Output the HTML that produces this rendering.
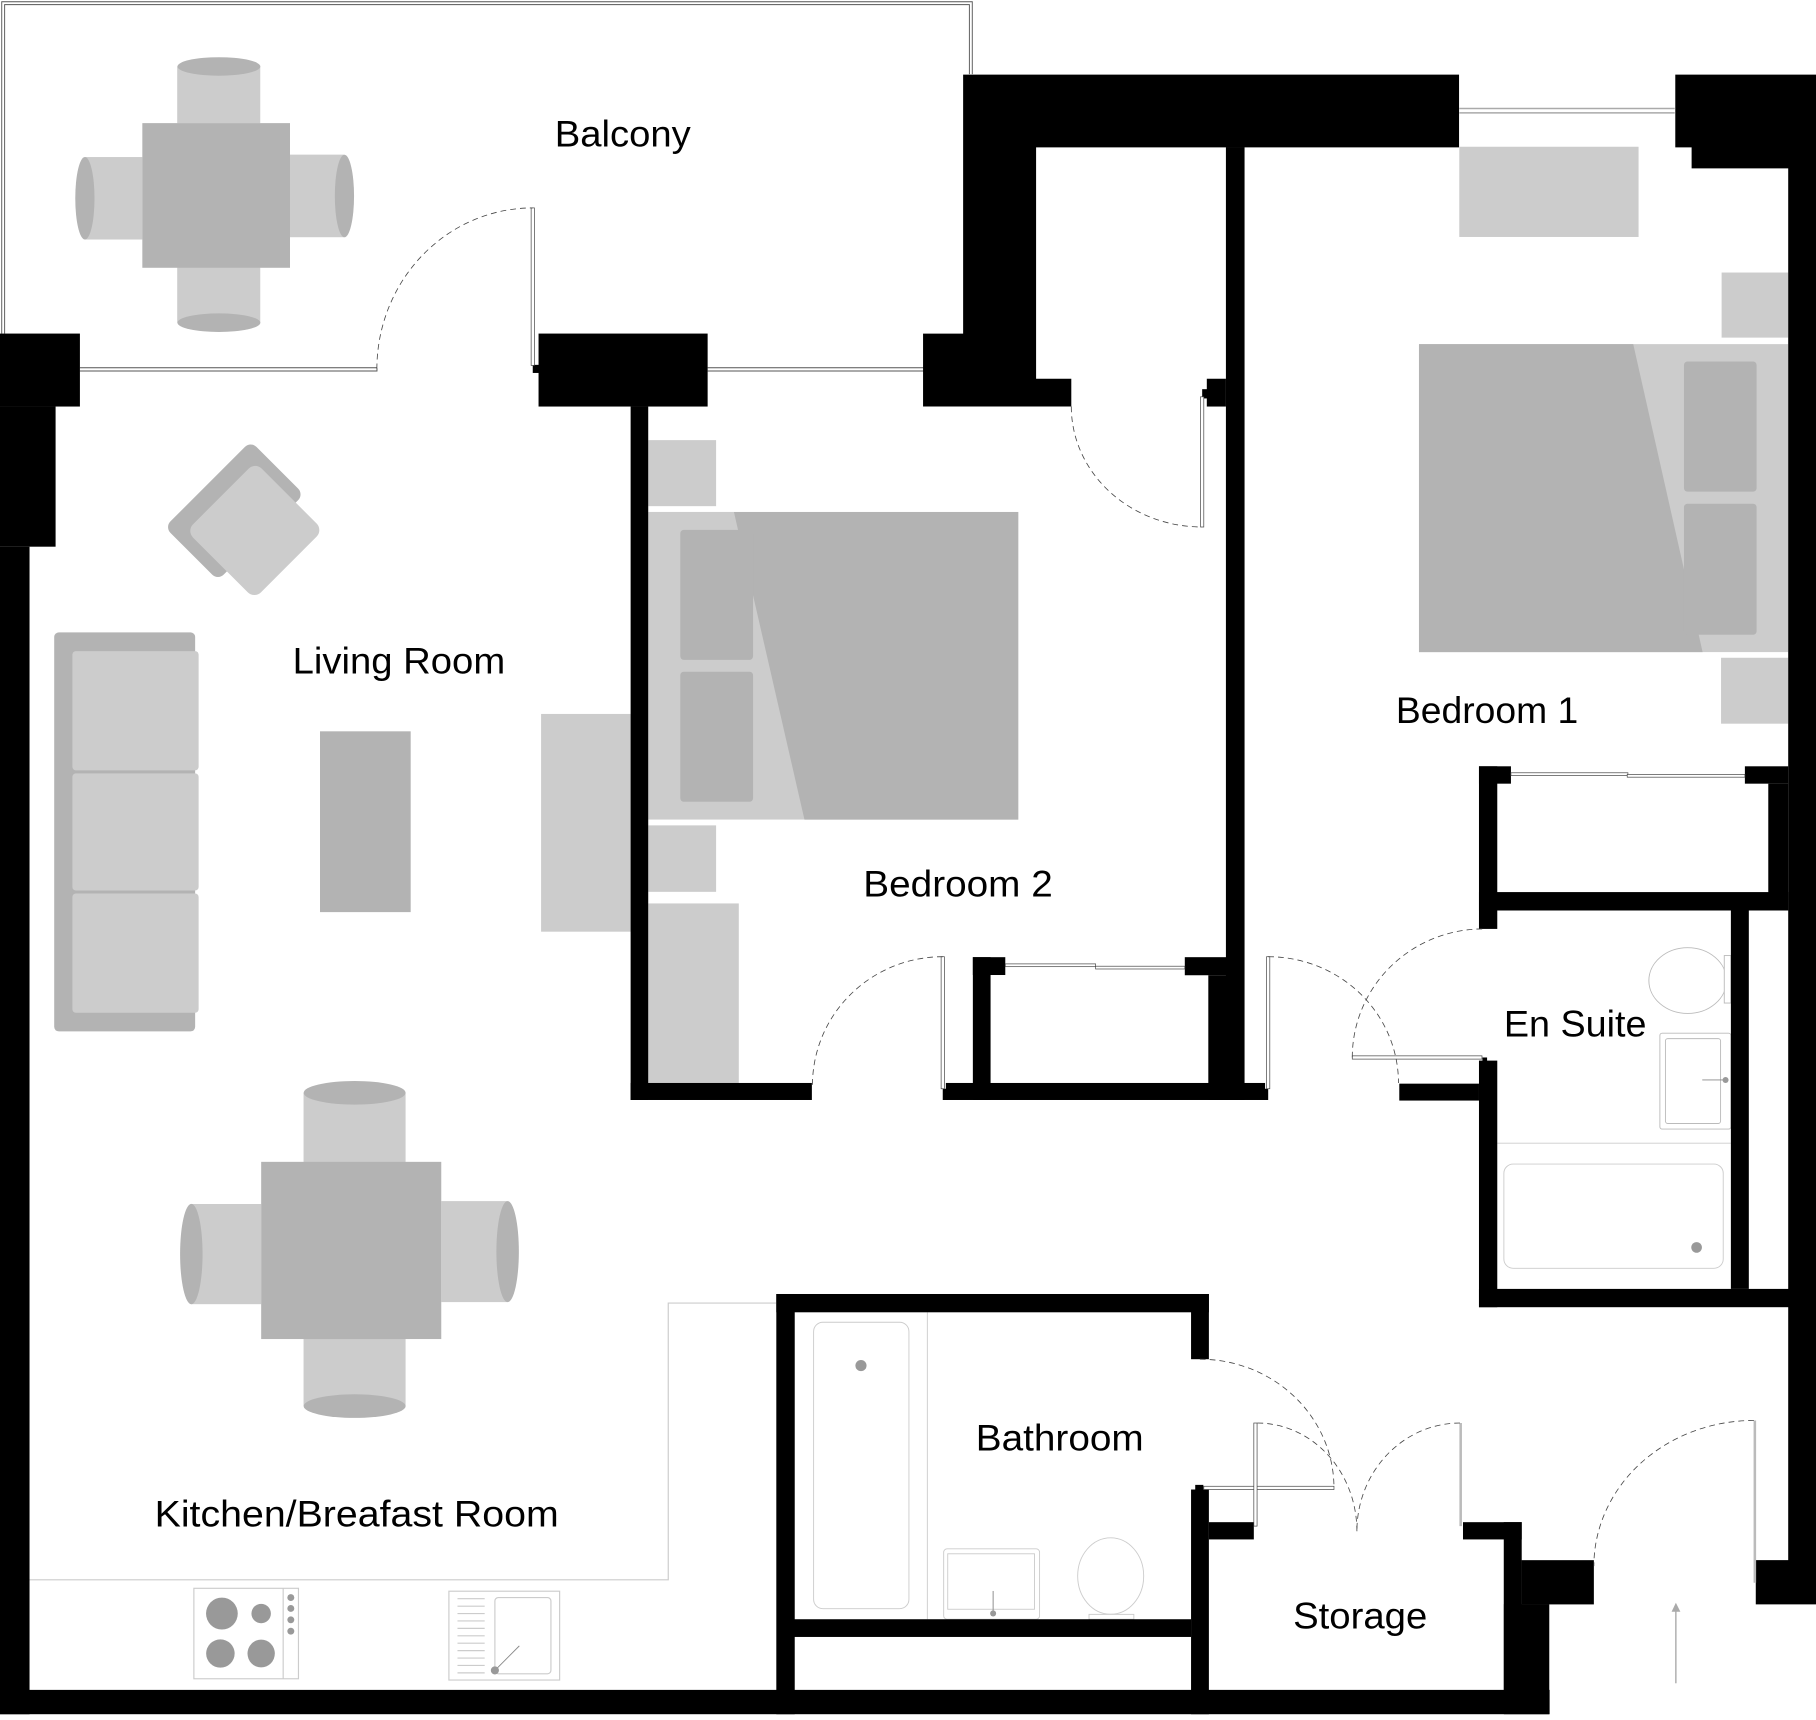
<!DOCTYPE html>
<html><head><meta charset="utf-8"><style>
html,body{margin:0;padding:0;background:#fff;}
svg{display:block;}
text{font-family:"Liberation Sans",sans-serif;font-size:32px;fill:#000;}
</style></head><body>
<svg width="1816" height="1720" viewBox="0 0 1568 1485" preserveAspectRatio="none" xmlns="http://www.w3.org/2000/svg">
<rect x="0" y="0" width="1568" height="1485" fill="#fff"/>

<!-- Balcony outline (double thin lines) -->
<g fill="none" stroke="#555" stroke-width="0.8">
  <path d="M1.5 288 V1.5 H839.5 V64"/>
  <path d="M4 288 V4 H837 V64"/>
  <path d="M69 317.5 H325.5"/>
  <path d="M69 320.3 H325.5 V318"/>
  <path d="M611 317.5 H798"/>
  <path d="M611 320.3 H798"/>
</g>
<!-- top right window -->
<g stroke="#aaa" stroke-width="1.3">
  <line x1="1260" y1="93.7" x2="1446" y2="93.7"/>
  <line x1="1260" y1="97.5" x2="1446" y2="97.5"/>
</g>

<!-- Furniture: balcony table -->
<g>
  <rect x="153" y="57.4" width="71.7" height="49" fill="#ccc"/>
  <ellipse cx="189" cy="57.4" rx="35.8" ry="8" fill="#b3b3b3"/>
  <rect x="153" y="231" width="71.7" height="47.6" fill="#ccc"/>
  <ellipse cx="189" cy="278.6" rx="35.8" ry="8" fill="#b3b3b3"/>
  <rect x="73.3" y="135.6" width="49.6" height="71.2" fill="#ccc"/>
  <ellipse cx="73.3" cy="171.2" rx="8.3" ry="35.6" fill="#b3b3b3"/>
  <rect x="250.4" y="133.5" width="47" height="71.3" fill="#ccc"/>
  <ellipse cx="297.4" cy="169.2" rx="8.3" ry="35.6" fill="#b3b3b3"/>
  <rect x="122.9" y="106.3" width="127.5" height="124.9" fill="#b3b3b3"/>
</g>

<!-- Living room -->
<rect x="169.8" y="388.5" width="65" height="105" rx="7" fill="#b3b3b3" transform="rotate(45 202.3 441)"/>
<rect x="178.5" y="416" width="83" height="84" rx="8" fill="#ccc" transform="rotate(45 220 458)"/>
<rect x="46.8" y="546" width="121.7" height="344.5" rx="4" fill="#b3b3b3"/>
<rect x="62.5" y="562.2" width="109" height="102.9" rx="3" fill="#ccc"/>
<rect x="62.5" y="667.7" width="109" height="101.1" rx="3" fill="#ccc"/>
<rect x="62.5" y="771.4" width="109" height="103" rx="3" fill="#ccc"/>
<rect x="276.3" y="631.4" width="78.3" height="156.1" fill="#b3b3b3"/>
<rect x="467.2" y="616.4" width="77.5" height="188" fill="#ccc"/>

<!-- Dining -->
<g>
  <rect x="262.1" y="943.5" width="88.1" height="60" fill="#ccc"/>
  <ellipse cx="306.2" cy="943.5" rx="44" ry="10.2" fill="#b3b3b3"/>
  <rect x="262.1" y="1156" width="88.1" height="58" fill="#ccc"/>
  <ellipse cx="306.2" cy="1214" rx="44" ry="10.2" fill="#b3b3b3"/>
  <rect x="165.2" y="1039.5" width="60.3" height="86.5" fill="#ccc"/>
  <ellipse cx="165.2" cy="1082.7" rx="9.7" ry="43.3" fill="#b3b3b3"/>
  <rect x="381" y="1037" width="57.3" height="87.2" fill="#ccc"/>
  <ellipse cx="438.3" cy="1080.6" rx="9.7" ry="43.6" fill="#b3b3b3"/>
  <rect x="225.5" y="1003.1" width="155.5" height="153" fill="#b3b3b3"/>
</g>

<!-- Kitchen counter -->
<polyline points="25.5,1364 577,1364 577,1125 670,1125" fill="none" stroke="#ccc" stroke-width="1"/>
<!-- hob -->
<rect x="167.4" y="1371.3" width="90.3" height="78.1" fill="#fff" stroke="#ccc" stroke-width="1"/>
<line x1="244.5" y1="1371.3" x2="244.5" y2="1449.4" stroke="#ccc" stroke-width="1"/>
<ellipse cx="191.6" cy="1393.1" rx="13.7" ry="13.8" fill="#999"/>
<ellipse cx="225.5" cy="1393.1" rx="8.4" ry="8.4" fill="#999"/>
<ellipse cx="190.3" cy="1427.6" rx="12.3" ry="12.2" fill="#999"/>
<ellipse cx="225.5" cy="1427.6" rx="11.8" ry="12" fill="#999"/>
<circle cx="251.1" cy="1379.3" r="3" fill="#999"/>
<circle cx="251.1" cy="1388.7" r="3" fill="#999"/>
<circle cx="251.1" cy="1398.5" r="3" fill="#999"/>
<circle cx="251.1" cy="1408.3" r="3" fill="#999"/>
<!-- sink -->
<rect x="387.6" y="1373.8" width="95.6" height="76.7" fill="#fff" stroke="#ccc" stroke-width="1"/>
<g stroke="#ccc" stroke-width="1">
  <line x1="395" y1="1380.3" x2="418.5" y2="1380.3"/>
  <line x1="395" y1="1386.7" x2="418.5" y2="1386.7"/>
  <line x1="395" y1="1393.1" x2="418.5" y2="1393.1"/>
  <line x1="395" y1="1399.5" x2="418.5" y2="1399.5"/>
  <line x1="395" y1="1405.9" x2="418.5" y2="1405.9"/>
  <line x1="395" y1="1412.3" x2="418.5" y2="1412.3"/>
  <line x1="395" y1="1418.7" x2="418.5" y2="1418.7"/>
  <line x1="395" y1="1425.1" x2="418.5" y2="1425.1"/>
  <line x1="395" y1="1431.5" x2="418.5" y2="1431.5"/>
  <line x1="395" y1="1437.9" x2="418.5" y2="1437.9"/>
  <line x1="395" y1="1444.3" x2="418.5" y2="1444.3"/>
</g>
<rect x="427.3" y="1379.3" width="48.4" height="65.8" rx="3" fill="none" stroke="#ccc" stroke-width="1"/>
<line x1="427.3" y1="1442.2" x2="448.4" y2="1421" stroke="#888" stroke-width="0.8"/>
<circle cx="427.3" cy="1442.2" r="3.5" fill="#999"/>

<!-- Bedroom 2 furniture -->
<rect x="559.7" y="380" width="58.6" height="57" fill="#ccc"/>
<rect x="559.7" y="442" width="319.5" height="265.6" fill="#ccc"/>
<polygon points="633.7,442 879.2,442 879.2,707.6 694.6,707.6" fill="#b3b3b3"/>
<rect x="587.4" y="457.5" width="62.8" height="112.2" rx="3" fill="#b3b3b3"/>
<rect x="587.4" y="580" width="62.8" height="112.2" rx="3" fill="#b3b3b3"/>
<rect x="559.7" y="712.6" width="58.6" height="57.4" fill="#ccc"/>
<rect x="559.7" y="780" width="78.2" height="155" fill="#ccc"/>

<!-- Bedroom 1 furniture -->
<rect x="1260" y="126.7" width="154.8" height="77.9" fill="#ccc"/>
<rect x="1486.5" y="235.3" width="57.5" height="56.2" fill="#ccc"/>
<rect x="1225.2" y="297.1" width="318.8" height="265.9" fill="#ccc"/>
<polygon points="1225.2,297.1 1410.2,297.1 1470.1,563 1225.2,563" fill="#b3b3b3"/>
<rect x="1454" y="312.1" width="62.7" height="112.4" rx="3" fill="#b3b3b3"/>
<rect x="1454" y="434.9" width="62.7" height="113.1" rx="3" fill="#b3b3b3"/>
<rect x="1486" y="567.9" width="58" height="56.9" fill="#ccc"/>

<!-- En suite fixtures -->
<ellipse cx="1457.2" cy="846.6" rx="33.5" ry="28.4" fill="#fff" stroke="#bbb" stroke-width="0.8"/>
<rect x="1488.8" y="825" width="5.7" height="41" fill="#fff" stroke="#bbb" stroke-width="0.8"/>
<rect x="1433.2" y="892" width="61.3" height="82.8" rx="2" fill="#fff" stroke="#bbb" stroke-width="0.8"/>
<rect x="1438" y="896.7" width="47.6" height="73.3" rx="2" fill="none" stroke="#bbb" stroke-width="0.8"/>
<line x1="1469.8" y1="932.4" x2="1489.3" y2="932.4" stroke="#888" stroke-width="0.8"/>
<circle cx="1489.9" cy="932.4" r="2.6" fill="#999"/>
<line x1="1292.8" y1="987" x2="1494.5" y2="987" stroke="#ccc" stroke-width="0.8"/>
<rect x="1298.5" y="1005" width="189.4" height="90" rx="8" fill="none" stroke="#ccc" stroke-width="0.8"/>
<circle cx="1464.9" cy="1077" r="4.6" fill="#999"/>

<!-- Bathroom fixtures -->
<line x1="800.7" y1="1133" x2="800.7" y2="1398" stroke="#ccc" stroke-width="0.8"/>
<rect x="702.5" y="1141.6" width="82.3" height="247.3" rx="8" fill="none" stroke="#ccc" stroke-width="0.8"/>
<circle cx="743.4" cy="1179" r="4.8" fill="#999"/>
<rect x="814.8" y="1337.2" width="82.8" height="60.8" rx="3" fill="#fff" stroke="#ccc" stroke-width="0.8"/>
<rect x="818.3" y="1341.5" width="74.9" height="47.9" fill="none" stroke="#ccc" stroke-width="0.8"/>
<line x1="857.5" y1="1373.6" x2="857.5" y2="1392.3" stroke="#888" stroke-width="0.8"/>
<circle cx="857.5" cy="1393" r="2.6" fill="#999"/>
<ellipse cx="959" cy="1360.7" rx="28.5" ry="33" fill="#fff" stroke="#ccc" stroke-width="0.8"/>
<rect x="940.3" y="1393.8" width="38.7" height="4.2" fill="#fff" stroke="#ccc" stroke-width="0.8"/>

<!-- WALLS -->
<g fill="#000">
  <rect x="0" y="288" width="69" height="63"/>
  <rect x="0" y="351" width="48" height="121"/>
  <rect x="0" y="472" width="25.5" height="1008"/>
  <rect x="0" y="1459" width="1338" height="21"/>
  <rect x="465" y="288" width="146" height="63"/>
  <rect x="460" y="315" width="6" height="7"/>
  <rect x="544.5" y="351" width="15.2" height="598.7"/>
  <rect x="544.5" y="935" width="156.5" height="14.7"/>
  <polygon points="797,288 831.6,288 831.6,64.4 1259.8,64.4 1259.8,127.2 894.6,127.2 894.6,327 925,327 925,351 797,351"/>
  <rect x="1058.5" y="127" width="16.1" height="822.7"/>
  <rect x="1042" y="327" width="16.5" height="24"/>
  <rect x="1038" y="336" width="5" height="8"/>
  <rect x="840" y="826.4" width="15.3" height="123.3"/>
  <rect x="840" y="826.4" width="28" height="15.4"/>
  <rect x="1023" y="826.4" width="35.8" height="15.6"/>
  <rect x="1043.3" y="842" width="31.2" height="107.7"/>
  <rect x="816.7" y="935" width="275.6" height="14.7"/>
  <rect x="814" y="940" width="4" height="9.7"/>
  <rect x="1091" y="940" width="4" height="9.7"/>
  <polygon points="1446.5,64.4 1568,64.4 1568,1385.2 1516,1385.2 1516,1347 1544,1347 1544,145.4 1460.6,145.4 1460.6,127.2 1446.5,127.2"/>
  <rect x="1277" y="661.6" width="15.8" height="140.4"/>
  <rect x="1277" y="661.6" width="27.6" height="15"/>
  <rect x="1506.6" y="661.6" width="37.4" height="15"/>
  <rect x="1526.8" y="676.6" width="17.2" height="109.5"/>
  <rect x="1277" y="770.2" width="267" height="15.9"/>
  <rect x="1277" y="915.7" width="15.8" height="212.9"/>
  <rect x="1280" y="913" width="4" height="4"/>
  <rect x="1208.2" y="935.6" width="68.8" height="14.6"/>
  <rect x="1277" y="1112.8" width="291" height="15.8"/>
  <rect x="1494.5" y="786" width="15.5" height="326.8"/>
  <rect x="670.3" y="1117.2" width="373.5" height="15.8"/>
  <rect x="670.3" y="1117.2" width="15.9" height="362.8"/>
  <rect x="1028.4" y="1117.2" width="15.4" height="56.3"/>
  <rect x="1028.4" y="1286" width="15.4" height="194"/>
  <rect x="1032" y="1282" width="7" height="5"/>
  <rect x="686" y="1398" width="342.4" height="15.3"/>
  <rect x="1043.8" y="1314.2" width="38.8" height="14.9"/>
  <rect x="1263.2" y="1314.2" width="50.7" height="14.9"/>
  <rect x="1298.4" y="1314.2" width="15.5" height="146"/>
  <rect x="1313.8" y="1347" width="62.4" height="38.2"/>
  <rect x="1298.5" y="1385" width="39.2" height="95"/>
</g>

<!-- Door leaves (thin double lines) -->
<g fill="#fff" stroke="#444" stroke-width="0.6">
  <rect x="458.6" y="179.5" width="2.8" height="136"/>
  <rect x="1036.6" y="342.6" width="2.8" height="112.4"/>
  <rect x="812.6" y="826" width="2.8" height="114"/>
  <rect x="1093.6" y="826" width="2.8" height="114"/>
  <rect x="1167.6" y="911.6" width="112" height="2.8"/>
  <rect x="1039.4" y="1283.2" width="112.4" height="2.8"/>
  <rect x="1082.6" y="1228.6" width="2.8" height="89"/>
  <rect x="868" y="832.2" width="78" height="2.4"/>
  <rect x="946" y="834.2" width="77" height="2.4"/>
  <rect x="1304.6" y="667.2" width="101" height="2.4"/>
  <rect x="1405" y="668.6" width="101.6" height="2.4"/>
</g>
<g stroke="#bbb" stroke-width="2.2">
  <line x1="1261.2" y1="1228.6" x2="1261.2" y2="1317.6"/>
  <line x1="1515.2" y1="1226.4" x2="1515.2" y2="1366.5"/>
</g>

<!-- Door swings (dashed arcs) -->
<g fill="none" stroke="#444" stroke-width="0.7" stroke-dasharray="5,3.5">
  <path d="M325.4 318.8 A134.6 139.3 0 0 1 460 179.5"/>
  <path d="M925 351 A113 104 0 0 0 1038 455"/>
  <path d="M814 826 A112.5 111 0 0 0 701.5 937"/>
  <path d="M1095 826 A112.5 109 0 0 1 1207.5 935"/>
  <path d="M1167.6 913 A113 111 0 0 1 1280.6 802"/>
  <path d="M1036 1173.5 A115.8 111.1 0 0 1 1151.8 1284.6"/>
  <path d="M1085.7 1228.6 A86 93.4 0 0 1 1171.6 1322"/>
  <path d="M1260.6 1228.6 A89 93.4 0 0 0 1171.6 1322"/>
  <path d="M1514.4 1226.4 A138.2 125.8 0 0 0 1376.2 1352.2"/>
</g>

<!-- Entrance arrow -->
<line x1="1447" y1="1391" x2="1447" y2="1453.3" stroke="#aaa" stroke-width="1.2"/>
<polygon points="1443.3,1391.5 1450.9,1391.5 1447,1383.8" fill="#aaa"/>

<!-- Labels -->
<text x="479" y="126.5" textLength="117.4" lengthAdjust="spacingAndGlyphs">Balcony</text>
<text x="252.7" y="581.6" textLength="183.5" lengthAdjust="spacingAndGlyphs">Living Room</text>
<text x="745.4" y="774" textLength="163.6" lengthAdjust="spacingAndGlyphs">Bedroom 2</text>
<text x="1205.3" y="624.3" textLength="157.4" lengthAdjust="spacingAndGlyphs">Bedroom 1</text>
<text x="1298.5" y="894.7" textLength="123.2" lengthAdjust="spacingAndGlyphs">En Suite</text>
<text x="842.5" y="1252.4" textLength="145" lengthAdjust="spacingAndGlyphs">Bathroom</text>
<text x="1116.5" y="1406" textLength="115.9" lengthAdjust="spacingAndGlyphs">Storage</text>
<text x="133.5" y="1317.8" textLength="348.9" lengthAdjust="spacingAndGlyphs">Kitchen/Breafast Room</text>
</svg>
</body></html>
